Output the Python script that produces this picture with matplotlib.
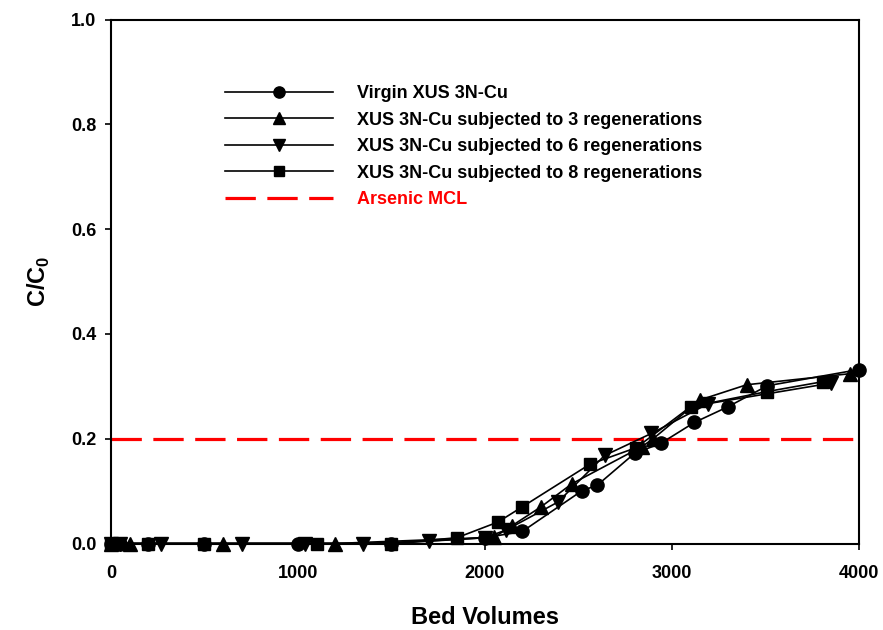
import matplotlib
matplotlib.use("Agg")
import matplotlib.pyplot as plt

plt.rcParams['font.family'] = ['Liberation Sans', 'DejaVu Sans']
plt.rcParams['font.weight'] = 'bold'
plt.rcParams['mathtext.fontset'] = 'custom'
plt.rcParams['mathtext.bf'] = 'Liberation Sans:bold'
plt.rcParams['mathtext.rm'] = 'Liberation Sans:bold'

# Breakthrough data: bed volumes vs C/C0
virgin_bv = [0, 50, 200, 500, 1000, 1500, 2000, 2200, 2520, 2600, 2800, 2940, 3120, 3300, 3510, 4000]
virgin_c = [0, 0, 0, 0, 0, 0, 0.011, 0.023, 0.101, 0.111, 0.172, 0.191, 0.231, 0.261, 0.301, 0.332]

regen3_bv = [0, 100, 600, 1200, 2050, 2145, 2300, 2465, 2840, 2900, 3150, 3400, 3950]
regen3_c = [0, 0, 0, 0, 0.012, 0.034, 0.070, 0.114, 0.185, 0.200, 0.274, 0.303, 0.324]

regen6_bv = [0, 50, 270, 700, 1040, 1350, 1700, 2000, 2115, 2390, 2640, 2890, 3195, 3850]
regen6_c = [0, 0, 0, 0, 0, 0, 0.005, 0.011, 0.026, 0.079, 0.168, 0.210, 0.267, 0.306]

regen8_bv = [0, 200, 500, 1100, 1500, 1850, 2070, 2200, 2560, 2810, 3100, 3510, 3810]
regen8_c = [0, 0, 0, 0, 0, 0.011, 0.041, 0.070, 0.151, 0.183, 0.261, 0.290, 0.309]

mcl_value = 0.2

series_labels = [
    "Virgin XUS 3N-Cu",
    "XUS 3N-Cu subjected to 3 regenerations",
    "XUS 3N-Cu subjected to 6 regenerations",
    "XUS 3N-Cu subjected to 8 regenerations",
]
mcl_label = "Arsenic MCL"

x_ticks = [0, 1000, 2000, 3000, 4000]
y_ticks = [0.0, 0.2, 0.4, 0.6, 0.8, 1.0]

fig = plt.figure(figsize=(8.83, 6.30), dpi=100)
ax = fig.add_axes([0.1257, 0.1373, 0.847, 0.8317])

series = [
    (virgin_bv, virgin_c, 'o', 9.5),
    (regen3_bv, regen3_c, '^', 9.5),
    (regen6_bv, regen6_c, 'v', 9.5),
    (regen8_bv, regen8_c, 's', 8.5),
]
handles = []
for (bv, c, mk, ms), lab in zip(series, series_labels):
    ln, = ax.plot(bv, c, color='black', lw=1.2, marker=mk, ms=ms,
                  markerfacecolor='black', markeredgecolor='black',
                  clip_on=False, zorder=3, label=lab)
    handles.append(ln)

mcl = ax.axhline(mcl_value, color='#ff0000', lw=2.3, dashes=(9.5, 3.6), zorder=2, label=mcl_label)
handles.append(mcl)

ax.set_xlim(0, 4000)
ax.set_ylim(0, 1.0)
ax.set_xticks(x_ticks)
ax.set_xticklabels([str(v) for v in x_ticks])
ax.set_yticks(y_ticks)
ax.set_yticklabels([f"{v:.1f}" for v in y_ticks])
ax.tick_params(direction='out', length=4.5, width=1.2, labelsize=13)
ax.tick_params(axis='x', pad=11)
ax.tick_params(axis='y', pad=6)
for sp in ax.spines.values():
    sp.set_linewidth(1.5)

ax.set_xlabel("Bed Volumes", fontsize=17, fontweight='bold', labelpad=17)
ax.set_ylabel(r"C/C$_\mathbf{0}$", fontsize=17, fontweight='bold', labelpad=14)

leg = ax.legend(handles=handles, loc='upper left', bbox_to_anchor=(225 / 883, 1 - 85 / 630),
                bbox_transform=fig.transFigure, frameon=False, fontsize=13,
                handlelength=6.0, handletextpad=1.3, labelspacing=0.53,
                borderpad=0, borderaxespad=0, numpoints=1, markerscale=0.85)
for txt in leg.get_texts():
    txt.set_fontweight('bold')
leg.get_texts()[-1].set_color('#ff0000')

fig.savefig("out.png", dpi=100)
